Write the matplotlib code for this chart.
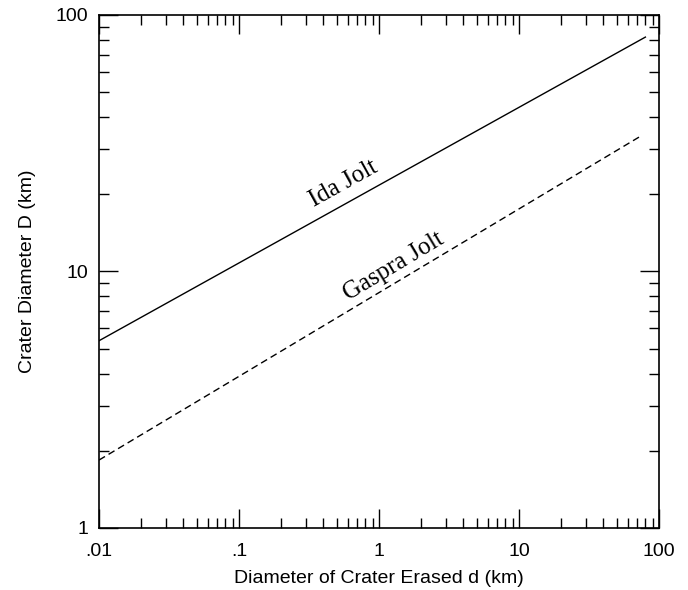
import numpy as np
from matplotlib import pyplot as plt
from matplotlib.ticker import FuncFormatter, LogLocator

# data
ida_d = [0.01, 80]
ida_D = [5.37, 82]
gaspra_d = [0.01, 76]
gaspra_D = [1.84, 34]

x_ticks = [0.01, 0.1, 1, 10, 100]
x_ticklabels = [".01", ".1", "1", "10", "100"]
y_ticks = [1, 10, 100]
y_ticklabels = ["1", "10", "100"]

plt.rcParams['font.family'] = ['Liberation Sans', 'DejaVu Sans']

fig = plt.figure(figsize=(6.88, 5.90), dpi=100)
ax = fig.add_axes([0.1439, 0.1051, 0.8139, 0.8695])

ax.plot(ida_d, ida_D, color='black', lw=1.0)
ax.plot(gaspra_d, gaspra_D, color='black', lw=1.0, linestyle=(0, (5, 3)))

ax.set_xscale('log')
ax.set_yscale('log')
ax.set_xlim(0.01, 100)
ax.set_ylim(1, 100)

ax.set_xticks(x_ticks)
ax.set_xticklabels(x_ticklabels)
ax.set_yticks(y_ticks)
ax.set_yticklabels(y_ticklabels)
ax.xaxis.set_minor_locator(LogLocator(base=10, subs=np.arange(2, 10)))
ax.yaxis.set_minor_locator(LogLocator(base=10, subs=np.arange(2, 10)))
ax.xaxis.set_minor_formatter(FuncFormatter(lambda v, p: ""))
ax.yaxis.set_minor_formatter(FuncFormatter(lambda v, p: ""))

ax.tick_params(which='both', direction='in', top=True, right=True, width=1.0, labelsize=14)
ax.tick_params(which='major', length=14)
ax.tick_params(which='minor', length=7)
ax.tick_params(axis='x', which='major', pad=11)
ax.tick_params(axis='y', which='major', pad=8)
for s in ax.spines.values():
    s.set_linewidth(1.2)

ax.set_xlabel("Diameter of Crater Erased d (km)", fontsize=14, labelpad=7)
ax.set_ylabel("Crater Diameter D (km)", fontsize=14, labelpad=14)

ax.text(0.61, 20.2, "Ida Jolt", family=['Liberation Serif'], fontsize=18,
        rotation=29, rotation_mode='anchor', ha='center', va='bottom')
ax.text(1.41, 9.6, "Gaspra Jolt", family=['Liberation Serif'], fontsize=18,
        rotation=31, rotation_mode='anchor', ha='center', va='bottom')

fig.savefig("out.png", dpi=100)
